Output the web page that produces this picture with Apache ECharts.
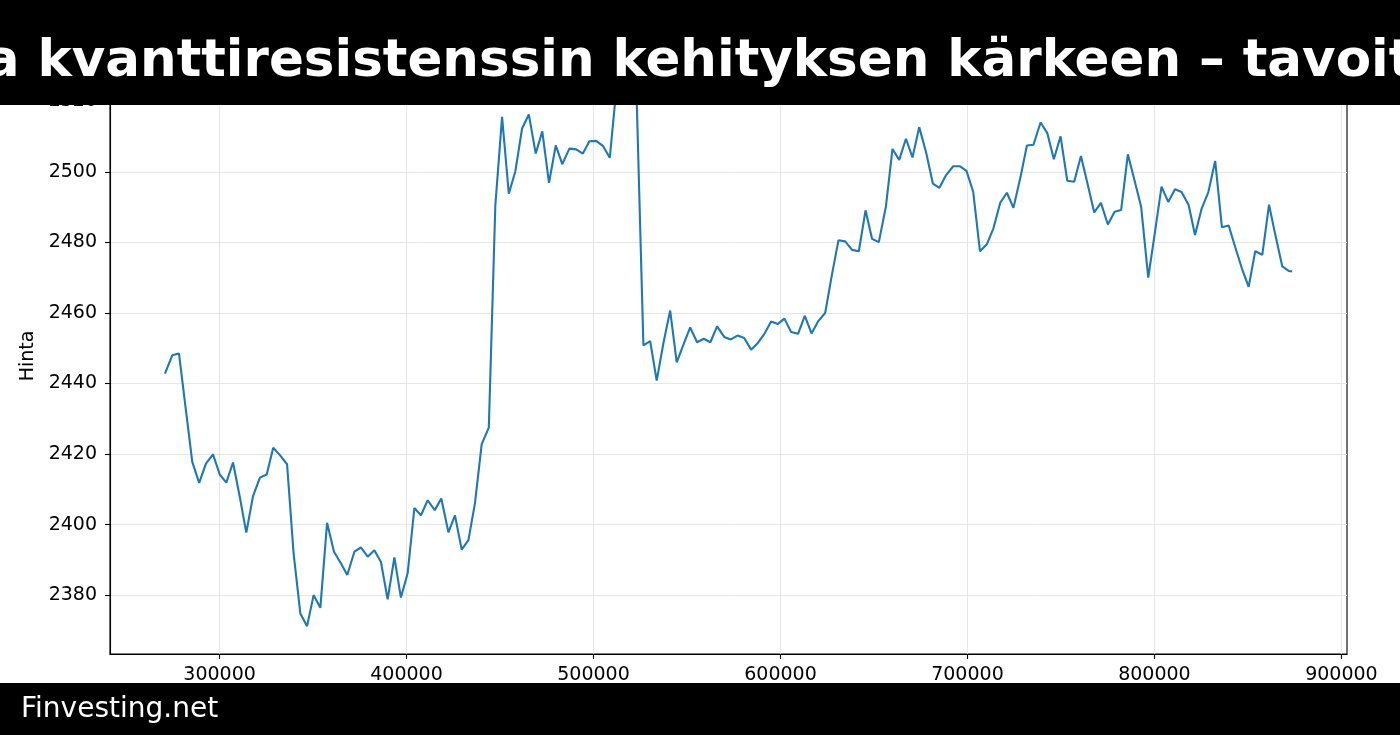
<!DOCTYPE html>
<html>
<head>
<meta charset="utf-8">
<script src="https://cdn.jsdelivr.net/npm/echarts@6/dist/echarts.min.js"></script>
<style>
html,body{margin:0;padding:0;background:#fff;}
#chart{width:1400px;height:735px;}
</style>
</head>
<body>
<div id="chart"></div>
<script>
const titleText = "a kvanttiresistenssin kehityksen kärkeen – tavoit";
const footerText = "Finvesting.net";
const yAxisName = "Hinta";

const xTicks = [300000, 400000, 500000, 600000, 700000, 800000, 900000];
const yTicks = [2380, 2400, 2420, 2440, 2460, 2480, 2500, 2520];

const xValues = [
  270800, 274700, 278300, 281900, 285400, 289100, 292700, 296500, 300100, 303600,
  307200, 310800, 314300, 317900, 321600, 325200, 328700, 332300, 336100, 339600,
  343200, 346800, 350300, 353900, 357500, 361200, 364800, 368300, 372100, 375600,
  379200, 382800, 386300, 389900, 393500, 397000, 400600, 404200, 407700, 411300,
  415100, 418600, 422400, 425900, 429500, 433100, 436600, 440200, 444000, 447500,
  451100, 454700, 458200, 461800, 465400, 469100, 472600, 476200, 479800, 483300,
  487100, 490700, 494300, 497800, 501400, 505000, 508700, 512200, 515800, 519400,
  523100, 526700, 530300, 533800, 537400, 541000, 544500, 548100, 551700, 555400,
  559000, 562500, 566100, 569900, 573400, 577000, 580600, 584300, 587900, 591400,
  595000, 598600, 602100, 605700, 609400, 613000, 616600, 620100, 623900, 627500,
  631000, 634600, 638300, 641900, 645500, 649000, 652600, 656400, 659900, 663500,
  667100, 670600, 674200, 677900, 681500, 685000, 688600, 692400, 696000, 699500,
  703100, 706700, 710400, 713900, 717500, 721100, 724600, 728400, 731800, 735300,
  739100, 742700, 746200, 749800, 753400, 757100, 760700, 764200, 767800, 771400,
  775100, 778700, 782200, 785800, 789400, 792900, 796700, 800300, 803800, 807400,
  811000, 814500, 818300, 821700, 825200, 828800, 832500, 836100, 839700, 843200,
  846800, 850400, 853900, 857700, 861300, 864800, 868400, 872000, 873700
];

const priceValues = [
  2442.8, 2448.0, 2448.5, 2432.9, 2417.8, 2411.8, 2417.3, 2419.9, 2414.2, 2411.9,
  2417.6, 2407.9, 2397.7, 2408.1, 2413.3, 2414.2, 2421.8, 2419.7, 2417.1, 2391.8,
  2374.8, 2371.2, 2380.0, 2376.4, 2400.5, 2392.3, 2389.1, 2385.7, 2392.3, 2393.5,
  2390.9, 2392.7, 2389.4, 2378.8, 2390.7, 2379.3, 2386.2, 2404.7, 2402.6, 2406.9,
  2404.1, 2407.4, 2397.8, 2402.6, 2392.9, 2395.6, 2406.1, 2422.8, 2427.5, 2490.6,
  2515.6, 2493.8, 2500.2, 2512.3, 2516.3, 2505.2, 2511.5, 2496.9, 2507.5, 2502.2,
  2506.6, 2506.4, 2505.2, 2508.7, 2508.8, 2507.4, 2504.0, 2523.5, 2524.6, 2523.0,
  2520.5, 2450.8, 2452.0, 2440.8, 2451.5, 2460.7, 2446.0, 2451.0, 2455.9, 2451.7,
  2452.7, 2451.7, 2456.2, 2453.2, 2452.5, 2453.6, 2452.9, 2449.6, 2451.5, 2454.1,
  2457.6, 2456.9, 2458.4, 2454.6, 2454.1, 2459.2, 2454.2, 2457.6, 2460.0, 2470.8,
  2480.6, 2480.3, 2477.9, 2477.5, 2489.1, 2481.0, 2480.1, 2490.2, 2506.5, 2503.4,
  2509.4, 2504.1, 2512.7, 2505.5, 2496.7, 2495.5, 2499.1, 2501.6, 2501.6, 2500.3,
  2494.3, 2477.5, 2479.5, 2484.0, 2491.2, 2494.1, 2489.8, 2498.6, 2507.5, 2507.7,
  2514.0, 2511.0, 2503.6, 2510.1, 2497.5, 2497.2, 2504.5, 2496.7, 2488.5, 2491.2,
  2485.1, 2488.7, 2489.2, 2505.0, 2497.5, 2490.1, 2470.0, 2483.0, 2495.8, 2491.5,
  2495.1, 2494.3, 2490.6, 2482.1, 2489.5, 2494.2, 2503.1, 2484.3, 2484.8, 2478.7,
  2472.6, 2467.4, 2477.5, 2476.5, 2490.7, 2481.8, 2473.2, 2471.9, 2471.8
];

const seriesData = xValues.map((x, i) => [x, priceValues[i]]);
const FONT = "'DejaVu Sans', sans-serif";

const chart = echarts.init(document.getElementById('chart'), null, {renderer: 'canvas'});
chart.setOption({
  animation: false,
  backgroundColor: '#fff',
  grid: {
    left: 110, right: 53, top: 58, bottom: 81,
    show: true, borderColor: '#000', borderWidth: 1.1, backgroundColor: 'transparent'
  },
  xAxis: {
    type: 'value',
    min: 241400, max: 903000,
    minInterval: 100000, maxInterval: 100000,
    axisLine: {show: true, lineStyle: {color: '#000', width: 1.1}},
    axisTick: {show: true, length: 5, lineStyle: {color: '#000', width: 1.1}, customValues: xTicks},
    axisLabel: {
      color: '#000', fontFamily: FONT, fontSize: 19, margin: 12,
      customValues: xTicks,
      formatter: v => String(v)
    },
    splitLine: {show: true, lineStyle: {color: '#e6e6e6', width: 1}}
  },
  yAxis: {
    type: 'value',
    min: 2363.3, max: 2532.3,
    minInterval: 20, maxInterval: 20,
    name: yAxisName,
    nameLocation: 'middle',
    nameGap: 69,
    nameTextStyle: {color: '#000', fontFamily: FONT, fontSize: 19},
    axisLine: {show: true, lineStyle: {color: '#000', width: 1.1}},
    axisTick: {show: true, length: 5, lineStyle: {color: '#000', width: 1.1}, customValues: yTicks},
    axisLabel: {
      color: '#000', fontFamily: FONT, fontSize: 19, margin: 13,
      customValues: yTicks,
      formatter: v => String(v)
    },
    splitLine: {show: true, lineStyle: {color: '#e6e6e6', width: 1}}
  },
  series: [{
    type: 'line',
    data: seriesData,
    showSymbol: false,
    symbol: 'none',
    lineStyle: {color: '#1f77b4', width: 2.1},
    itemStyle: {color: '#1f77b4'},
    z: 2
  }],
  graphic: [
    {type: 'rect', z: 100, shape: {x: 0, y: 0, width: 1400, height: 105}, style: {fill: '#000'}},
    {type: 'text', z: 101, x: 699, y: 63,
      style: {text: titleText, fill: '#fff', font: "bold 51.5px 'DejaVu Sans'", align: 'center', verticalAlign: 'middle'}},
    {type: 'rect', z: 100, shape: {x: 0, y: 683, width: 1400, height: 52}, style: {fill: '#000'}},
    {type: 'text', z: 101, x: 21, y: 710,
      style: {text: footerText, fill: '#fff', font: "28px 'DejaVu Sans'", align: 'left', verticalAlign: 'middle'}}
  ]
});
</script>
</body>
</html>
